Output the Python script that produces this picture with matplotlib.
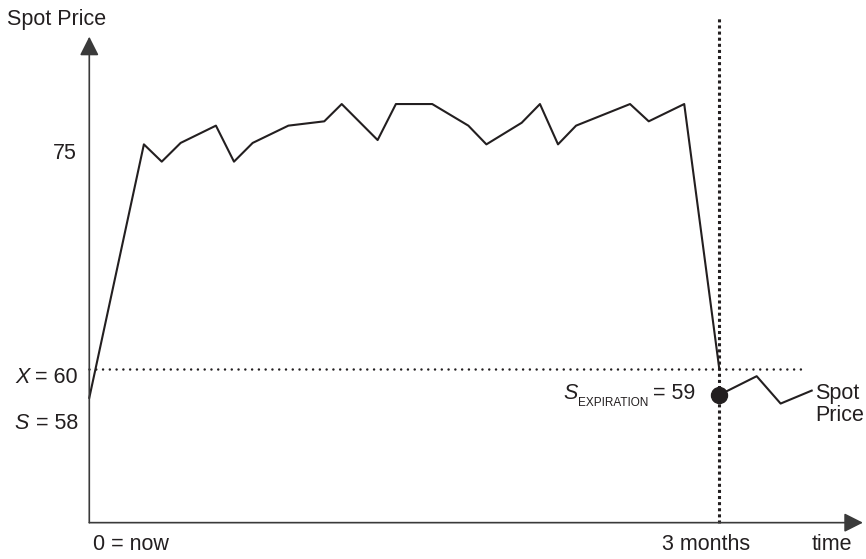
import matplotlib
matplotlib.use("Agg")
import matplotlib.pyplot as plt

# ---------------- DATA ----------------
# time in months, spot price
path_t = [0.0, 0.26, 0.345, 0.435, 0.603, 0.689, 0.778, 0.948, 1.119, 1.202,
          1.373, 1.46, 1.633, 1.805, 1.891, 2.059, 2.146, 2.232, 2.318, 2.575,
          2.664, 2.833, 3.0]
path_price = [58.0, 75.6, 74.4, 75.7, 76.9, 74.4, 75.7, 76.9, 77.2, 78.4,
              75.9, 78.4, 78.4, 76.9, 75.6, 77.1, 78.4, 75.6, 76.9, 78.4,
              77.2, 78.4, 60.0]

after_t = [3.0, 3.178, 3.292, 3.44]
after_price = [58.2, 59.5, 57.6, 58.5]

strike = 60
s_now = 58
s_exp = 59
expiry = 3.0

# ---------------- FIGURE ----------------
plt.rcParams["font.family"] = ["Liberation Sans", "DejaVu Sans"]
fs = 15.5
ink = "#231f20"
axis_col = "#3a3a3a"

fig = plt.figure(figsize=(8.66, 5.59), dpi=100)
ax = fig.add_axes([0, 0, 1, 1])
ax.set_xlim(-0.4252, 3.6986)
ax.set_ylim(46.806, 85.625)
ax.axis("off")

# axes with arrows
y_bottom = 49.33
arrow = dict(arrowstyle="-|>,head_length=11.5,head_width=5.8",
             mutation_scale=1, lw=1.2, color=axis_col, shrinkA=0, shrinkB=0)
ax.annotate("", xy=(0, 83.08), xytext=(0, y_bottom), arrowprops=arrow)
ax.annotate("", xy=(3.684, y_bottom), xytext=(0, y_bottom), arrowprops=arrow)

# strike and expiry lines
ax.plot([0, 3.408], [strike, strike], color=ink, lw=1.8,
        linestyle=(0, (0.01, 2.7)), dash_capstyle="round")
ax.plot([expiry, expiry], [y_bottom, 84.375], color=ink, lw=2.2,
        linestyle=(0, (1, 1)), dash_capstyle="butt")

# price paths
ax.plot(path_t, path_price, color=ink, lw=1.5)
ax.plot(after_t, after_price, color=ink, lw=1.5)
ax.plot([after_t[0]], [after_price[0]], "o", color=ink, markersize=11.5)

# ---------------- LABELS ----------------
ax.text(-0.392, 84.3, "Spot Price", fontsize=fs, ha="left", va="center", color=ink)
ax.text(-0.058, 75.0, "75", fontsize=fs, ha="right", va="center", color=ink)

t60 = ax.text(-0.054, 59.4, "= %d" % strike, fontsize=fs, ha="right",
              va="center", color=ink)
ax.annotate("X ", xy=(0, 0.5), xycoords=t60, fontsize=fs, ha="right",
            va="center", color=ink, style="italic")
t58 = ax.text(-0.054, 56.2, "= %d" % s_now, fontsize=fs, ha="right",
              va="center", color=ink)
ax.annotate("S ", xy=(0, 0.5), xycoords=t58, fontsize=fs, ha="right",
            va="center", color=ink, style="italic")

ax.text(0.018, 47.78, "0 = now", fontsize=fs, ha="left", va="center", color=ink)
ax.text(2.937, 47.78, "3 months", fontsize=fs, ha="center", va="center", color=ink)
ax.text(3.441, 47.78, "time", fontsize=fs, ha="left", va="center", color=ink)

t59 = ax.text(2.884, 58.33, "= %d" % s_exp, fontsize=fs, ha="right",
              va="center", color=ink)
texp = ax.annotate("EXPIRATION", xy=(0, 0), xycoords=t59, xytext=(-3, -3.6),
                   textcoords="offset points", fontsize=8.5, ha="right",
                   va="bottom", color=ink)
ax.annotate("S", xy=(0, 0.5), xycoords=(texp, t59), xytext=(-0.3, 0),
            textcoords="offset points", fontsize=fs, ha="right", va="center",
            color=ink, style="italic")

ax.text(3.455, 57.55, "Spot\nPrice", fontsize=fs, ha="left", va="center",
        color=ink, linespacing=1.08)

fig.savefig("out.png", dpi=100)
